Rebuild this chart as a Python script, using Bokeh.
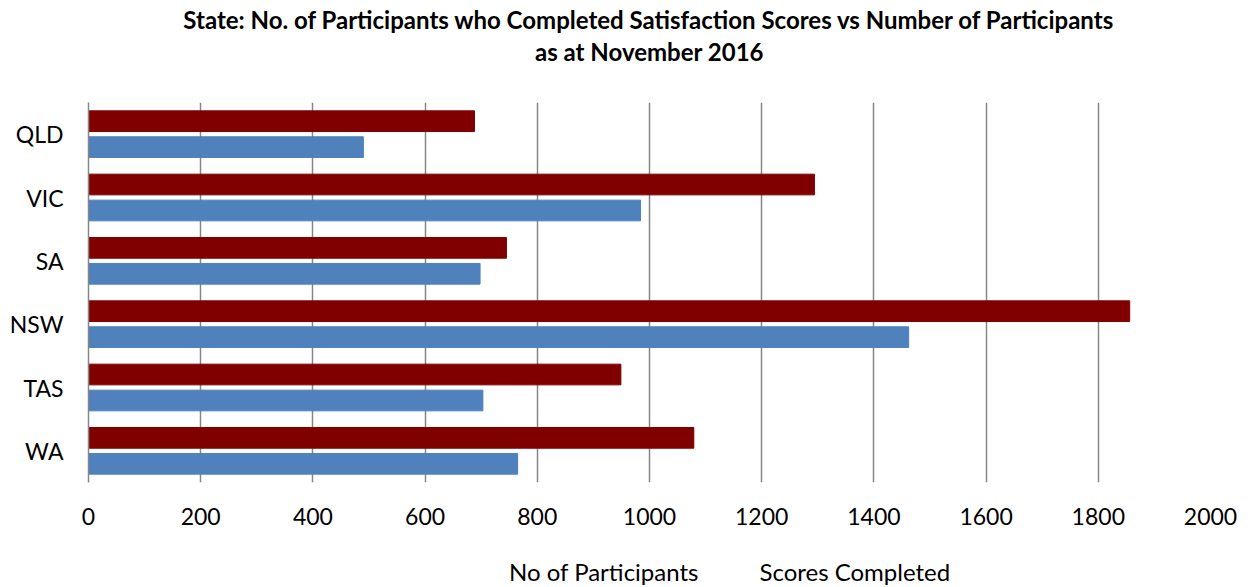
from bokeh.plotting import figure
from bokeh.layouts import column
from bokeh.models import (ColumnDataSource, FactorRange, Range1d, FixedTicker,
                          Legend, LegendItem, Title)
from bokeh.transform import dodge
from bokeh.embed import file_html
from bokeh.resources import INLINE

# Participants per state and how many of them completed satisfaction scores
states = ["QLD", "VIC", "SA", "NSW", "TAS", "WA"]
participants = [688, 1294, 745, 1856, 949, 1079]
scores_completed = [490, 984, 698, 1462, 703, 765]
x_ticks = [0, 200, 400, 600, 800, 1000, 1200, 1400, 1600, 1800, 2000]
series_labels = ["No of Participants", "Scores Completed"]

FONT = "Lato"
RED = "#800000"
BLUE = "#4F81BD"
GRID = "#868686"

source = ColumnDataSource(dict(state=states, participants=participants,
                               scores=scores_completed))

# ---- main chart ----
p = figure(width=1250, height=545,
           y_range=FactorRange(factors=list(reversed(states))),
           x_range=Range1d(0, 2000),
           output_backend="svg", toolbar_location=None,
           min_border_left=88, min_border_right=40,
           min_border_top=102, min_border_bottom=63)
p.outline_line_color = None
p.background_fill_color = "white"
p.border_fill_color = "white"

p.hbar(y=dodge("state", 0.205, range=p.y_range), right="participants",
       left=0, height=0.327, source=source, fill_color=RED, line_color=RED)
p.hbar(y=dodge("state", -0.205, range=p.y_range), right="scores",
       left=0, height=0.327, source=source, fill_color=BLUE, line_color=BLUE)

# Title block: a blank spacer next to the plot, then the two bold lines
spacer = Title(text=" ", text_font_size="1px", standoff=34)
t2 = Title(text="as at November 2016", align="center",
           text_font=FONT, text_font_size="24px", text_font_style="bold",
           text_color="#000000", standoff=0)
t1 = Title(text="State: No. of Participants who Completed Satisfaction Scores vs Number of Participants",
           align="center", text_font=FONT, text_font_size="24px",
           text_font_style="bold", text_color="#000000", standoff=2)
p.add_layout(spacer, "above")
p.add_layout(t2, "above")
p.add_layout(t1, "above")

# value axis
p.xaxis.ticker = FixedTicker(ticks=x_ticks)
p.xaxis.axis_line_color = None
p.xaxis.major_tick_line_color = None
p.xaxis.minor_tick_line_color = None
p.xaxis.major_label_text_font = FONT
p.xaxis.major_label_text_font_size = "23px"
p.xaxis.major_label_text_color = "#000000"
p.xaxis.major_label_standoff = 19

# category axis
p.yaxis.axis_line_color = GRID
p.yaxis.axis_line_width = 1.5
p.yaxis.major_tick_line_color = None
p.yaxis.minor_tick_line_color = None
p.yaxis.major_label_text_font = FONT
p.yaxis.major_label_text_font_size = "23px"
p.yaxis.major_label_text_color = "#000000"
p.yaxis.major_label_standoff = 19

p.xgrid.grid_line_color = GRID
p.xgrid.grid_line_width = 1.5
p.ygrid.grid_line_color = None

# ---- legend strip under the chart (no axes, so the frame fills the strip) ----
leg = figure(width=1250, height=42, x_range=Range1d(0, 1250), y_range=Range1d(0, 42),
             x_axis_location=None, y_axis_location=None,
             output_backend="svg", toolbar_location=None, min_border=0)
leg.grid.visible = False
leg.outline_line_color = None
empty = ColumnDataSource(dict(y=[], right=[]))
sw_part = leg.hbar(y="y", right="right", left=0, height=1, source=empty,
                   fill_color=RED, line_color=RED)
sw_score = leg.hbar(y="y", right="right", left=0, height=1, source=empty,
                    fill_color=BLUE, line_color=BLUE)
legend = Legend(items=[LegendItem(label=series_labels[0], renderers=[sw_part]),
                       LegendItem(label=series_labels[1], renderers=[sw_score])],
                orientation="horizontal", location=(400, 1),
                label_text_font=FONT, label_text_font_size="24px",
                label_text_color="#000000",
                glyph_width=15, glyph_height=15, spacing=40,
                label_standoff=6, border_line_color=None,
                background_fill_alpha=0, padding=0, margin=0)
leg.add_layout(legend)

open("out.html", "w").write(file_html(column(p, leg, spacing=0), INLINE))
